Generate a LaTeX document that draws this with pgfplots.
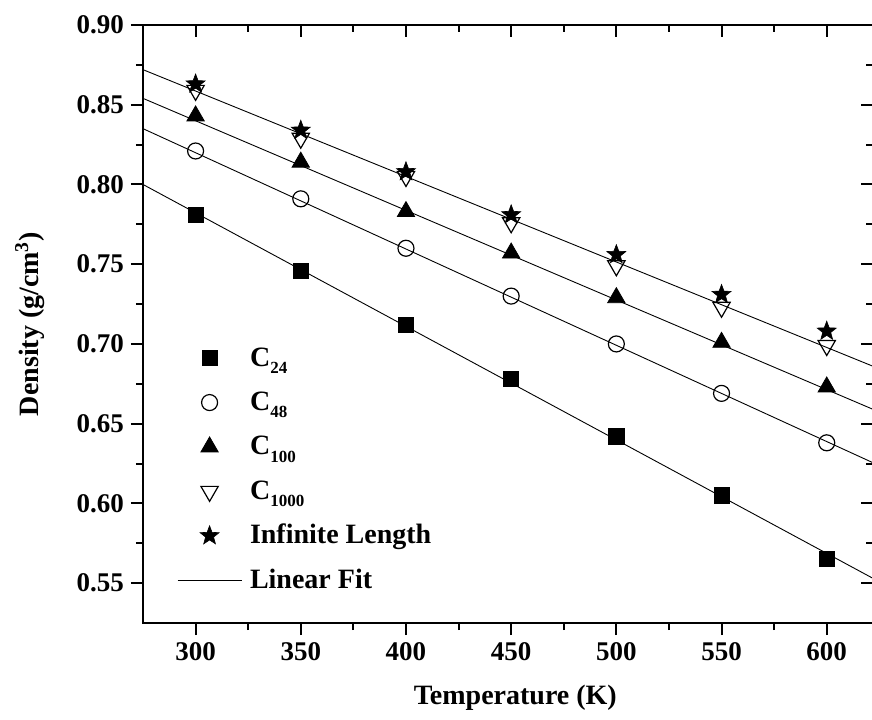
\documentclass[border=0pt]{standalone}
\usepackage{pgfplots}
\pgfplotsset{compat=1.18}
\usepackage{pgfplotstable}
\usepackage{fontspec}
\setmainfont{Liberation Serif}
\usetikzlibrary{plotmarks}

\newcommand{\sub}[1]{\raisebox{-0.55ex}{\fontsize{8.5}{9}\selectfont\bfseries #1}}

\pgfdeclareplotmark{fstar}{%
  \pgfpathmoveto{\pgfpointpolar{90}{\pgfplotmarksize}}%
  \pgfpathlineto{\pgfpointpolar{126}{0.42\pgfplotmarksize}}%
  \pgfpathlineto{\pgfpointpolar{162}{\pgfplotmarksize}}%
  \pgfpathlineto{\pgfpointpolar{198}{0.42\pgfplotmarksize}}%
  \pgfpathlineto{\pgfpointpolar{234}{\pgfplotmarksize}}%
  \pgfpathlineto{\pgfpointpolar{270}{0.42\pgfplotmarksize}}%
  \pgfpathlineto{\pgfpointpolar{306}{\pgfplotmarksize}}%
  \pgfpathlineto{\pgfpointpolar{342}{0.42\pgfplotmarksize}}%
  \pgfpathlineto{\pgfpointpolar{18}{\pgfplotmarksize}}%
  \pgfpathlineto{\pgfpointpolar{54}{0.42\pgfplotmarksize}}%
  \pgfpathclose
  \pgfusepathqfillstroke
}

\pgfplotstableread{
T C24 C48 C100 C1000 Cinf
300 0.781 0.821 0.843 0.859 0.863
350 0.746 0.791 0.814 0.829 0.834
400 0.712 0.760 0.783 0.805 0.808
450 0.678 0.730 0.757 0.776 0.781
500 0.642 0.700 0.729 0.749 0.756
550 0.605 0.669 0.701 0.723 0.731
600 0.565 0.638 0.673 0.699 0.708
}\densdata

\pgfplotsset{
  common/.style={
    scale only axis, width=365pt, height=299pt,
    xmin=275, xmax=622, ymin=0.525, ymax=0.90,
    xtick={300,350,...,600}, ytick={0.55,0.60,...,0.90},
    minor x tick num=1, minor y tick num=1,
    axis line style={line width=1pt},
    major tick length=6pt, minor tick length=3.5pt,
    every tick/.style={black, line width=1pt},
    at={(0,0)}, anchor=south west,
  }
}

\begin{document}
\begin{tikzpicture}
\begin{axis}[common,
  xtick pos=left, ytick pos=left, tick align=outside,
  /pgf/number format/assume math mode=true,
  tick label style={font=\fontsize{13.5}{16}\selectfont\bfseries},
  yticklabel style={/pgf/number format/.cd, fixed, fixed zerofill, precision=2},
  xticklabel style={/pgf/number format/.cd, set thousands separator={}},
  xlabel={Temperature (K)},
  ylabel={Density (g/cm\textsuperscript{3})},
  label style={font=\fontsize{14}{16}\selectfont\bfseries},
  xlabel style={at={(axis description cs:0.51,-0.125)}, anchor=center},
  ylabel style={at={(axis description cs:-0.155,0.5)}, anchor=center},
  legend image code/.code={\draw[mark repeat=2,mark phase=2,#1] plot coordinates {(0pt,0pt)(16pt,0pt)(32pt,0pt)};},
  legend cell align=left,
  legend style={draw=none, fill=none, at={(0.038,0.477)}, anchor=north west,
    font=\fontsize{14}{16}\selectfont\bfseries,
    nodes={inner sep=0pt, text height=12pt, text depth=4pt},
    row sep=6.2pt, column sep=4pt},
]
% linear fits
\addplot[black, line width=0.45pt, forget plot] coordinates {(275,0.800) (622,0.553)};
\addplot[black, line width=0.45pt, forget plot] coordinates {(275,0.835) (622,0.6255)};
\addplot[black, line width=0.45pt, forget plot] coordinates {(275,0.854) (622,0.659)};
\addplot[black, line width=0.45pt, forget plot] coordinates {(275,0.872) (622,0.686)};
% data
\addplot[only marks, mark=square*, mark size=3.8pt, black] table[x=T, y=C24] {\densdata};
\addlegendentry{C\sub{24}}
\addplot[only marks, mark=o, mark size=4pt, black, mark options={fill=white, line width=0.6pt}] table[x=T, y=C48] {\densdata};
\addlegendentry{C\sub{48}}
\addplot[only marks, mark=triangle*, mark size=5pt, black] table[x=T, y=C100] {\densdata};
\addlegendentry{C\sub{100}}
\addplot[only marks, mark=triangle, mark size=5pt, black, mark options={rotate=180, fill=white, line width=0.6pt}] table[x=T, y=C1000] {\densdata};
\addlegendentry{C\sub{1000}}
\addplot[only marks, mark=fstar, mark size=5pt, black, mark options={line width=0.3pt}] table[x=T, y=Cinf] {\densdata};
\addlegendentry{Infinite Length}
\addlegendimage{black, line width=0.45pt}
\addlegendentry{Linear Fit}
\end{axis}
\begin{axis}[common,
  xtick pos=right, ytick pos=right, tick align=inside,
  xticklabels={}, yticklabels={},
]
\end{axis}
\pgfresetboundingbox
\useasboundingbox (-71.5pt,-48pt) rectangle (364.5pt,311.5pt);
\end{tikzpicture}
\end{document}
